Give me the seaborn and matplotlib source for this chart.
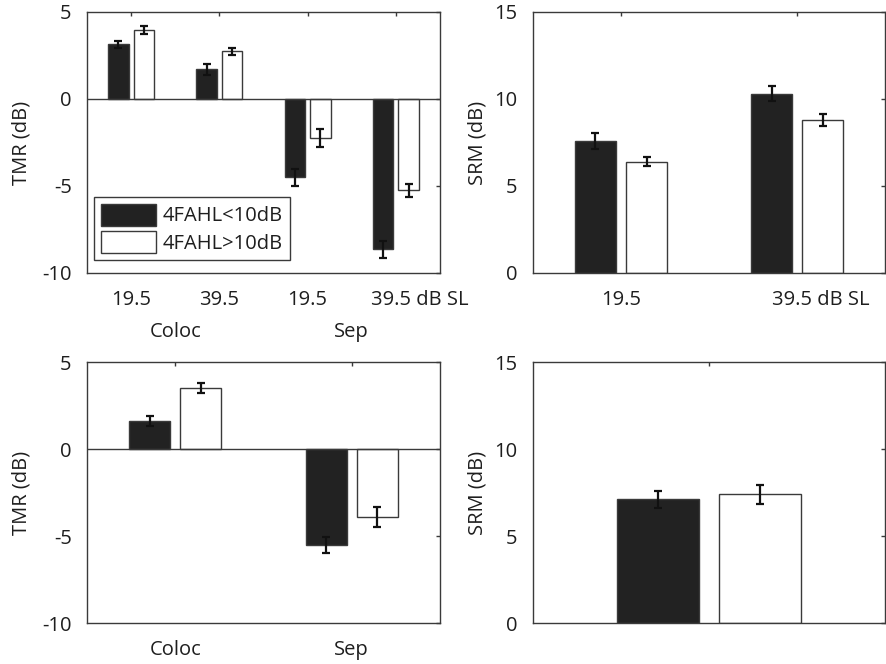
import numpy as np
import pandas as pd
import matplotlib
matplotlib.use("Agg")
import matplotlib.pyplot as plt
import matplotlib.transforms as mtransforms
import seaborn as sns

# data
groups = ["4FAHL<10dB", "4FAHL>10dB"]

tl_conds = ["Coloc 19.5", "Coloc 39.5", "Sep 19.5", "Sep 39.5"]
tl_ticklabels = ["19.5", "39.5", "19.5", "39.5 dB SL"]
tl_low = [3.15, 1.7, -4.5, -8.65]
tl_low_err = [0.2, 0.3, 0.5, 0.5]
tl_high = [3.95, 2.75, -2.25, -5.25]
tl_high_err = [0.22, 0.2, 0.5, 0.38]

tr_conds = ["19.5", "39.5"]
tr_ticklabels = ["19.5", "39.5 dB SL"]
tr_low = [7.6, 10.3]
tr_low_err = [0.45, 0.42]
tr_high = [6.4, 8.8]
tr_high_err = [0.28, 0.35]

bl_conds = ["Coloc", "Sep"]
bl_low = [1.6, -5.5]
bl_low_err = [0.3, 0.45]
bl_high = [3.5, -3.9]
bl_high_err = [0.28, 0.58]

br_conds = ["all"]
br_low = [7.1]
br_low_err = [0.5]
br_high = [7.4]
br_high_err = [0.56]

sns.set_theme(style="white")
plt.rcParams["font.family"] = ["Open Sans", "DejaVu Sans"]
plt.rcParams["font.size"] = 14.5
plt.rcParams["axes.unicode_minus"] = False

SPINE = "#3a3a3a"
BLACK = "#222222"
TEXT = "#1e1e1e"


def make_df(conds, low, low_err, high, high_err):
    return pd.DataFrame({
        "cond": conds * 2,
        "group": [groups[0]] * len(conds) + [groups[1]] * len(conds),
        "value": low + high,
        "err": low_err + high_err,
    })


def panel(ax, df, ylim, yticks, ylabel, label_x, ticklabels):
    sns.barplot(data=df, x="cond", y="value", hue="group", hue_order=groups,
                palette=[BLACK, "white"], width=0.58, gap=0.2,
                edgecolor=SPINE, linewidth=1.0, errorbar=None,
                legend=False, ax=ax)
    for cont, g in zip(ax.containers, groups):
        sub = df[df["group"] == g]
        xs = [b.get_x() + b.get_width() / 2 for b in cont]
        ax.errorbar(xs, sub["value"], yerr=sub["err"], fmt="none",
                    ecolor="#111111", elinewidth=1.6, capsize=3, capthick=1.6,
                    zorder=5)
    n = df["cond"].nunique()
    ax.set_xlim(-0.5, n - 0.5)
    ax.set_ylim(*ylim)
    ax.set_yticks(yticks)
    ax.set_xticks(range(n))
    ax.set_xticklabels(ticklabels)
    ax.set_xlabel("")
    ax.set_ylabel(ylabel, fontsize=14.5, color=TEXT)
    ax.yaxis.set_label_coords(label_x, 0.5)
    for s in ax.spines.values():
        s.set_visible(True)
        s.set_color(SPINE)
        s.set_linewidth(1.0)
    ax.tick_params(axis="both", direction="in", length=3, width=1.0,
                   color=SPINE, top=True, right=True, labelsize=14.5,
                   labelcolor=TEXT)
    ax.tick_params(axis="x", pad=12)
    ax.tick_params(axis="y", pad=11)
    if ylim[0] < 0:
        ax.axhline(0, color=SPINE, lw=1.0, zorder=1)


def shift_last_label(ax, fig):
    lab = ax.get_xticklabels()[-1]
    lab.set_ha("left")
    lab.set_transform(lab.get_transform() +
                      mtransforms.ScaledTranslation(-0.25, 0, fig.dpi_scale_trans))


fig = plt.figure(figsize=(8.86, 6.64), dpi=100)
ax_tl = fig.add_axes([0.0982, 0.5889, 0.3984, 0.3931])
ax_tr = fig.add_axes([0.6016, 0.5889, 0.3973, 0.3931])
ax_bl = fig.add_axes([0.0982, 0.0617, 0.3984, 0.3931])
ax_br = fig.add_axes([0.6016, 0.0617, 0.3973, 0.3931])

panel(ax_tl, make_df(tl_conds, tl_low, tl_low_err, tl_high, tl_high_err),
      (-10, 5), [-10, -5, 0, 5], "TMR (dB)", -0.156, tl_ticklabels)
panel(ax_tr, make_df(tr_conds, tr_low, tr_low_err, tr_high, tr_high_err),
      (0, 15), [0, 5, 10, 15], "SRM (dB)", -0.130, tr_ticklabels)
panel(ax_bl, make_df(bl_conds, bl_low, bl_low_err, bl_high, bl_high_err),
      (-10, 5), [-10, -5, 0, 5], "TMR (dB)", -0.156, bl_conds)
panel(ax_br, make_df(br_conds, br_low, br_low_err, br_high, br_high_err),
      (0, 15), [0, 5, 10, 15], "SRM (dB)", -0.130, [""])

shift_last_label(ax_tl, fig)
shift_last_label(ax_tr, fig)

# spatial condition labels under the top-left panel
for xpos, txt in [(0.5, "Coloc"), (2.5, "Sep")]:
    ax_tl.annotate(txt, xy=(xpos, 0), xycoords=("data", "axes fraction"),
                   xytext=(0, -35), textcoords="offset points",
                   ha="center", va="top", fontsize=14.5, color=TEXT)

handles = [ax_tl.containers[0][0], ax_tl.containers[1][0]]
leg = ax_tl.legend(handles, groups, loc="upper left",
                   bbox_to_anchor=(0.02, 0.29), borderaxespad=0,
                   frameon=True, fancybox=False, framealpha=1,
                   handlelength=2.75, handleheight=1.3, handletextpad=0.35,
                   labelspacing=0.22, borderpad=0.32, fontsize=14.5)
leg.get_frame().set_edgecolor(SPINE)
leg.get_frame().set_linewidth(1.0)
for t in leg.get_texts():
    t.set_color(TEXT)

fig.savefig("out.png", dpi=100)
